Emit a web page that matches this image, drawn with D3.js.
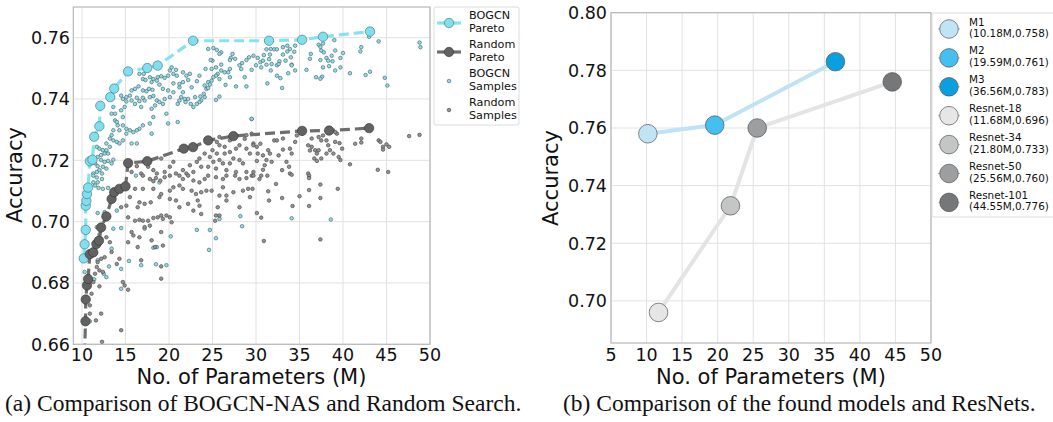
<!DOCTYPE html>
<html>
<head>
<meta charset="utf-8">
<script src="https://cdn.jsdelivr.net/npm/d3@7"></script>
<style>
	body { margin: 0; background: #fff; }
	text { font-family: 'DejaVu Sans', sans-serif; }
	.caption { font-family: 'Liberation Serif', 'Times New Roman', serif; }
</style>
</head>
<body>
<svg id="chart" width="1053" height="422"></svg>
<script>
/*

*	Data for panel (a): pareto fronts and samples, [params (M), accuracy]

*/
var bogcnPareto = [[10.2,0.688],[10.3,0.6926],[10.43,0.6973],[10.43,0.7052],[10.5,0.7068],[10.57,0.709],[10.7,0.7111],[10.9,0.7197],[11.2,0.7202],[11.4,0.7277],[12.0,0.7311],[12.1,0.7378],[13.25,0.7406],[13.7,0.7434],[15.3,0.749],[17.5,0.7501],[18.7,0.7509],[22.76,0.759],[31.5,0.759],[35.3,0.7593],[37.7,0.7603],[43.1,0.762]];

var randomPareto = [[10.3,0.657],[10.4,0.6675],[10.43,0.6746],[10.57,0.6792],[10.7,0.6813],[10.9,0.6894],[11.3,0.69],[11.65,0.6927],[11.95,0.6938],[12.2,0.6981],[12.8,0.7017],[13.4,0.7074],[13.7,0.7096],[14.3,0.7107],[15.0,0.7115],[15.3,0.7191],[17.5,0.7197],[21.7,0.7238],[22.76,0.7243],[24.5,0.7265],[27.4,0.7279],[35.3,0.7296],[38.4,0.7297],[43.0,0.7305]];

var bogcnSamples = [[24.5,0.7563],[25.1,0.7566],[25.5,0.756],[26.0,0.7552],[25.8,0.7547],[25.0,0.7525],[24.8,0.7527],[27.3,0.7547],[27.1,0.7534],[27.6,0.7531],[27.0,0.7527],[28.9,0.7527],[29.2,0.7536],[28.4,0.7517],[28.1,0.751],[28.3,0.7498],[28.7,0.7471],[27.7,0.7441],[28.9,0.7441],[27.0,0.7498],[27.0,0.7471],[26.8,0.7487],[26.4,0.7487],[26.0,0.7493],[25.6,0.7482],[25.4,0.7476],[25.8,0.7465],[25.1,0.7471],[24.9,0.746],[24.5,0.7455],[24.1,0.7444],[24.3,0.7433],[24.0,0.7417],[24.1,0.7406],[23.7,0.7395],[23.5,0.739],[23.2,0.7384],[23.6,0.7408],[24.5,0.7436],[24.7,0.7447],[26.5,0.7446],[25.8,0.7408],[25.4,0.7397],[26.0,0.7512],[25.4,0.7503],[24.9,0.7498],[24.2,0.7498],[23.5,0.7476],[23.2,0.7458],[22.6,0.7438],[22.2,0.7462],[22.0,0.7476],[22.4,0.7482],[21.6,0.7487],[20.8,0.7495],[20.9,0.7476],[20.5,0.7482],[20.3,0.7503],[20.1,0.7493],[19.9,0.7476],[19.5,0.7469],[19.1,0.7474],[18.7,0.7471],[18.2,0.7465],[17.8,0.7471],[17.1,0.7482],[16.6,0.7482],[17.0,0.7465],[17.3,0.7462],[18.0,0.7455],[18.6,0.746],[18.9,0.7447],[17.7,0.7433],[18.1,0.743],[17.4,0.7425],[17.0,0.7428],[16.5,0.7441],[16.1,0.7433],[15.7,0.7428],[15.5,0.7411],[15.1,0.7406],[14.7,0.74],[14.5,0.7411],[15.1,0.7392],[15.7,0.7395],[16.3,0.7404],[17.0,0.7404],[17.2,0.7395],[17.8,0.7406],[18.2,0.741],[18.6,0.7395],[18.9,0.739],[19.3,0.7384],[19.5,0.74],[20.1,0.7406],[20.5,0.7422],[21.2,0.7438],[21.6,0.7422],[21.2,0.7449],[21.6,0.7455],[21.0,0.7384],[21.2,0.7395],[21.4,0.7406],[21.8,0.74],[22.2,0.74],[21.9,0.739],[22.8,0.7374],[22.5,0.7384],[23.0,0.7406],[19.3,0.7433],[19.9,0.7428],[20.5,0.7451],[16.1,0.7384],[16.6,0.7393],[16.8,0.7374],[18.0,0.7368],[18.4,0.7379],[18.2,0.7341],[17.8,0.732],[17.0,0.7314],[16.6,0.7303],[16.3,0.7298],[15.9,0.7292],[15.5,0.7298],[15.1,0.7303],[14.7,0.7314],[14.7,0.7341],[14.5,0.7363],[14.9,0.7374],[13.6,0.7374],[13.4,0.7352],[13.8,0.7352],[13.8,0.733],[14.0,0.7325],[14.1,0.7314],[14.3,0.7298],[13.6,0.7298],[13.4,0.7282],[13.2,0.7271],[13.6,0.7265],[14.0,0.726],[14.3,0.7255],[14.7,0.7265],[15.7,0.7255],[16.3,0.7255],[15.1,0.7287],[19.7,0.7352],[21.0,0.7325],[19.9,0.732],[29.5,0.7335],[18.0,0.7287],
	[11.7,0.7244],[12.0,0.7238],[12.4,0.7233],[12.6,0.7222],[12.2,0.7217],[12.8,0.7233],[13.0,0.7222],[11.8,0.7211],[12.2,0.7201],[12.6,0.7195],[13.0,0.7198],[13.4,0.719],[11.5,0.719],[11.8,0.7181],[12.4,0.7179],[12.8,0.7173],[13.6,0.7202],[12.0,0.7168],[11.7,0.7162],[11.3,0.7157],[12.3,0.7157],[13.2,0.7244],[12.8,0.7255],
	[29.7,0.7541],[29.5,0.7495],[30.2,0.7534],[30.0,0.751],[30.5,0.752],[30.8,0.7525],[30.6,0.7503],[30.9,0.7543],[31.2,0.7562],[31.7,0.7563],[32.1,0.7562],[32.4,0.7562],[31.6,0.7545],[31.5,0.753],[31.2,0.7512],[31.8,0.7514],[31.7,0.7493],[32.4,0.751],[32.7,0.7523],[32.6,0.7514],[33.1,0.7569],[33.6,0.7574],[33.9,0.7563],[34.5,0.7574],[33.6,0.7555],[34.4,0.7554],[34.0,0.7536],[33.4,0.7525],[34.1,0.7512],[34.5,0.7493],[33.7,0.7484],[34.1,0.751],[33.1,0.7545],[32.4,0.7476],[32.8,0.7468],[31.3,0.7451],[33.0,0.7436],[35.8,0.7495],[36.3,0.7547],[36.2,0.7531],[37.2,0.7577],[37.4,0.757],[37.7,0.7581],[37.5,0.7558],[37.8,0.7552],[37.4,0.7527],[38.1,0.7534],[38.3,0.7525],[38.8,0.7523],[38.7,0.7541],[39.1,0.7558],[39.7,0.7534],[40.0,0.755],[39.0,0.7592],[37.7,0.7503],[38.4,0.7507],[39.1,0.7493],[39.7,0.7503],[36.9,0.7471],[37.6,0.7473],[37.4,0.7466],[40.8,0.7484],[42.1,0.7569],[42.0,0.7555],[42.6,0.7478],[43.1,0.7489],[43.0,0.7603],[44.1,0.7588],[44.8,0.7469],[45.1,0.7444],[48.8,0.7584],[48.9,0.7569],[29.5,0.7335],
	[11.3,0.715],[11.7,0.7144],[12.3,0.7139],[11.8,0.7128],[11.9,0.711],[12.4,0.7107],[16.2,0.715],[11.5,0.7118],[13.0,0.711],[18.9,0.7128],[11.8,0.7028],[11.7,0.6982],[13.6,0.6977],[14.5,0.6979],[17.2,0.6977],[20.2,0.6952],[18.6,0.6917],[18.2,0.6915],[15.4,0.6872],[16.8,0.6858],[18.5,0.6861],[19.7,0.6858],[14.5,0.6846],[13.1,0.6854],[12.8,0.6819],[14.5,0.6781],[11.8,0.6874],[10.3,0.6836],[23.2,0.6973],[24.7,0.6973],[25.4,0.6946],[25.8,0.7009],[28.2,0.7018],[28.4,0.6985],[24.6,0.6908],[14.0,0.7036],[13.4,0.6912],[12.0,0.6958],[11.3,0.7128],[12.6,0.7031],[34.1,0.7011],[38.6,0.7007],[10.9,0.6675],[11.4,0.6812],[12.5,0.683]];

var randomSamples = [[25.5,0.726],[25.8,0.7249],[26.4,0.7244],[25.0,0.7233],[25.5,0.7222],[26.4,0.7222],[27.0,0.7227],[27.7,0.7238],[28.1,0.7249],[28.7,0.727],[28.9,0.7238],[29.3,0.7222],[29.7,0.7255],[27.4,0.7206],[28.1,0.7201],[28.5,0.719],[27.0,0.719],[26.2,0.719],[25.8,0.7201],[25.1,0.7195],[24.5,0.7179],[25.4,0.7173],[26.6,0.7168],[27.7,0.7162],[28.9,0.7162],[23.5,0.7206],[23.2,0.7195],[23.7,0.7179],[22.4,0.7184],[21.6,0.7168],[22.0,0.7157],[22.8,0.7162],[20.5,0.7195],[20.1,0.7179],[19.5,0.7162],[20.8,0.7157],[18.2,0.7168],[17.6,0.7179],[18.6,0.7157],[16.8,0.7157],[16.3,0.7181],[15.7,0.7162],[19.1,0.7206],[17.8,0.7201],[25.8,0.7276],[27.0,0.7265],[28.9,0.7282],[24.1,0.7222],[24.7,0.7211],
	[17.0,0.715],[17.8,0.7139],[18.2,0.7132],[18.5,0.7142],[19.0,0.7134],[19.5,0.7145],[20.1,0.715],[21.2,0.715],[21.6,0.7139],[22.2,0.715],[22.8,0.7134],[23.5,0.7128],[24.1,0.7139],[24.5,0.715],[25.4,0.7145],[26.2,0.7139],[26.6,0.715],[27.6,0.715],[28.1,0.7139],[28.9,0.7142],[29.5,0.715],[16.1,0.7107],[17.0,0.7107],[18.2,0.7107],[19.1,0.709],[20.1,0.7101],[20.5,0.7112],[21.2,0.7118],[21.6,0.7107],[22.6,0.7101],[23.1,0.709],[23.7,0.7096],[24.3,0.7101],[24.9,0.7101],[25.8,0.7085],[26.6,0.7085],[27.4,0.7096],[28.5,0.7101],[29.1,0.7107],[29.3,0.708],[26.6,0.7069],[25.6,0.7047],[25.4,0.702],[28.1,0.7047],[26.2,0.7112],[15.5,0.708],[16.6,0.7063],[16.4,0.7047],[17.2,0.7058],[17.9,0.7063],[18.9,0.708],[20.1,0.7074],[20.8,0.7069],[21.2,0.7047],[22.2,0.7058],[23.3,0.7069],[23.5,0.7052],[23.7,0.7025],[22.8,0.7036],[14.5,0.7047],[15.1,0.7052],[15.3,0.7014],[16.1,0.7003],[16.6,0.7006],[17.0,0.7003],[17.6,0.7003],[17.8,0.6987],[18.2,0.7012],[18.7,0.7014],[19.1,0.702],[19.7,0.702],[20.1,0.7014],[20.3,0.6998],[19.3,0.7009],[17.2,0.6982],[15.7,0.6966],[15.9,0.6955],[16.6,0.6949],[15.3,0.6933],[16.4,0.6917],[18.0,0.6939],[19.1,0.6966],[19.3,0.6922],[18.4,0.6917],[16.8,0.6874],[19.1,0.6854],[19.1,0.6814],[14.7,0.6803],[14.9,0.6792],[15.3,0.6778],[14.5,0.6646],[12.3,0.6608],[12.8,0.6949],[13.2,0.6933],[13.4,0.6901],[12.6,0.6884],[12.2,0.6879],[11.8,0.6868],[11.7,0.6852],[12.0,0.6841],[12.4,0.6836],[11.5,0.683],[11.3,0.6803],[12.0,0.6789],[11.1,0.6765],[10.9,0.6727],[11.6,0.6678],[10.9,0.67],[12.2,0.67],[14.0,0.6862],[14.3,0.6879],[25.3,0.7003],[25.8,0.702],
	[29.7,0.7249],[30.1,0.7244],[30.5,0.7254],[30.2,0.7222],[30.8,0.7216],[31.4,0.7233],[31.6,0.7222],[31.8,0.7195],[31.2,0.7201],[30.1,0.7198],[31.0,0.7184],[32.1,0.7265],[32.4,0.7265],[33.1,0.7271],[33.1,0.7235],[32.6,0.7216],[33.9,0.7238],[34.1,0.7222],[33.5,0.7195],[33.8,0.7179],[34.5,0.726],[34.7,0.7281],[36.0,0.7249],[36.4,0.7244],[36.2,0.7232],[36.8,0.7233],[37.2,0.7233],[37.0,0.7222],[36.7,0.7206],[37.0,0.7198],[37.5,0.7206],[36.4,0.7271],[37.2,0.7276],[37.5,0.7265],[37.7,0.7281],[38.1,0.7265],[38.3,0.7249],[38.5,0.7233],[38.1,0.7222],[39.1,0.726],[39.6,0.7256],[38.9,0.7222],[39.5,0.7211],[39.7,0.7201],[39.9,0.7238],[39.3,0.7287],[39.1,0.7292],[40.8,0.7187],[41.4,0.7254],[42.1,0.7271],[42.1,0.7258],[44.1,0.7265],[44.3,0.726],[44.6,0.7244],[45.0,0.7252],[45.3,0.7244],[44.6,0.7235],[47.6,0.7279],[48.8,0.7283],[44.0,0.7169],[45.2,0.7162],[36.0,0.7157],[33.9,0.7157],[33.0,0.7168],[30.8,0.7169],[29.7,0.7162],[29.5,0.7287],[35.3,0.7287],
	[29.7,0.715],[30.6,0.715],[31.3,0.715],[34.1,0.7153],[36.1,0.715],[30.4,0.7139],[36.1,0.7142],[32.3,0.7123],[37.4,0.7121],[29.6,0.7107],[31.4,0.7099],[36.1,0.7103],[39.4,0.7107],[33.0,0.7077],[35.0,0.7083],[37.4,0.7077],[31.5,0.7069],[34.2,0.7051],[36.1,0.7051],[30.1,0.7028],[30.6,0.7013],[30.9,0.6937],[37.4,0.6942]];

var xTicksA = [10, 15, 20, 25, 30, 35, 40, 45, 50];
var yTicksA = [0.66, 0.68, 0.70, 0.72, 0.74, 0.76];
var legendA = ['BOGCN\nPareto', 'Random\nPareto', 'BOGCN\nSamples', 'Random\nSamples'];

/*

*	Data for panel (b): found models vs ResNets

*/
var modelNames = ['M1', 'M2', 'M3'];
var modelParams = [10.18, 19.59, 36.56];
var modelAcc = [0.758, 0.761, 0.783];
var resnetNames = ['Resnet-18', 'Resnet-34', 'Resnet-50', 'Resnet-101'];
var resnetParams = [11.68, 21.80, 25.56, 44.55];
var resnetAcc = [0.696, 0.733, 0.760, 0.776];
var modelColors = ['#c1e4f5', '#45bff0', '#0aa0e0'];
var resnetColors = ['#e6e6e6', '#c4c6c6', '#9c9e9f', '#757778'];
var stubColors = ['#1f77b4', '#ff7f0e', '#2ca02c', '#d62728', '#9467bd', '#8c564b', '#e377c2'];

var xTicksB = [5, 10, 15, 20, 25, 30, 35, 40, 45, 50];
var yTicksB = [0.70, 0.72, 0.74, 0.76, 0.78, 0.80];

var svg = d3.select('#chart');
svg.append('rect').attr('width', 1053).attr('height', 422).attr('fill', '#fff');

function fmt2(v) {
	return v.toFixed(2);
}

function drawFrame(g, x, y, xt, yt, tickX, tickY, clipId) {
	var x0 = x.range()[0], x1 = x.range()[1];
	var y0 = y.range()[0], y1 = y.range()[1];

	g.append('clipPath').attr('id', clipId)
		.append('rect').attr('x', x0).attr('y', y1).attr('width', x1 - x0).attr('height', y0 - y1);

	// grid
	g.selectAll('.gx').data(xt).enter().append('line')
		.attr('x1', function (d) { return x(d); }).attr('x2', function (d) { return x(d); })
		.attr('y1', y0).attr('y2', y1)
		.attr('stroke', '#e2e2e2').attr('stroke-width', 1);
	g.selectAll('.gy').data(yt).enter().append('line')
		.attr('y1', function (d) { return y(d); }).attr('y2', function (d) { return y(d); })
		.attr('x1', x0).attr('x2', x1)
		.attr('stroke', '#e2e2e2').attr('stroke-width', 1);

	// tick labels
	g.selectAll('.tx').data(xt).enter().append('text')
		.attr('x', function (d) { return x(d); }).attr('y', tickY)
		.attr('text-anchor', 'middle').attr('font-size', 17.5).attr('fill', '#111')
		.text(function (d) { return d; });
	g.selectAll('.ty').data(yt).enter().append('text')
		.attr('x', tickX).attr('y', function (d) { return y(d) + 6.3; })
		.attr('text-anchor', 'end').attr('font-size', 17.5).attr('fill', '#111')
		.text(fmt2);
}

function drawBox(g, x, y) {
	var x0 = x.range()[0], x1 = x.range()[1];
	var y0 = y.range()[0], y1 = y.range()[1];
	g.append('rect').attr('x', x0).attr('y', y1).attr('width', x1 - x0).attr('height', y0 - y1)
		.attr('fill', 'none').attr('stroke', '#b8b8b8').attr('stroke-width', 1.2);
}

/*

*	Panel (a)

*/
var xA = d3.scaleLinear().domain([9, 50]).range([73.3, 430]);
var yA = d3.scaleLinear().domain([0.66, 0.77]).range([344.3, 7]);
var gA = svg.append('g');
drawFrame(gA, xA, yA, xTicksA, yTicksA, 70, 361, 'clipA');

var plotA = gA.append('g').attr('clip-path', 'url(#clipA)');

plotA.selectAll('.bs').data(bogcnSamples).enter().append('circle')
	.attr('cx', function (d) { return xA(d[0]); }).attr('cy', function (d) { return yA(d[1]); })
	.attr('r', 1.8).attr('fill', '#8fdde9').attr('stroke', '#3a5a60').attr('stroke-width', 0.6);

plotA.selectAll('.rs').data(randomSamples).enter().append('circle')
	.attr('cx', function (d) { return xA(d[0]); }).attr('cy', function (d) { return yA(d[1]); })
	.attr('r', 1.8).attr('fill', '#939393').attr('stroke', '#3c3c3c').attr('stroke-width', 0.6);

var lineA = d3.line()
	.x(function (d) { return xA(d[0]); })
	.y(function (d) { return yA(d[1]); });

plotA.append('path').datum(bogcnPareto).attr('d', lineA)
	.attr('fill', 'none').attr('stroke', '#82e4f3').attr('stroke-width', 3.2).attr('stroke-dasharray', '10,5');
plotA.selectAll('.bp').data(bogcnPareto).enter().append('circle')
	.attr('cx', function (d) { return xA(d[0]); }).attr('cy', function (d) { return yA(d[1]); })
	.attr('r', 4.7).attr('fill', '#80dfee').attr('stroke', '#3b6f78').attr('stroke-width', 0.6);

plotA.append('path').datum(randomPareto).attr('d', lineA)
	.attr('fill', 'none').attr('stroke', '#6e6e6e').attr('stroke-width', 3.2).attr('stroke-dasharray', '10,5');
plotA.selectAll('.rp').data(randomPareto).enter().append('circle')
	.attr('cx', function (d) { return xA(d[0]); }).attr('cy', function (d) { return yA(d[1]); })
	.attr('r', 4.7).attr('fill', '#626262').attr('stroke', '#333').attr('stroke-width', 0.6);

drawBox(gA, xA, yA);

gA.append('text').attr('x', 251.5).attr('y', 384).attr('text-anchor', 'middle')
	.attr('font-size', 21).attr('fill', '#111').text('No. of Parameters (M)');
gA.append('text').attr('transform', 'translate(22,175) rotate(-90)').attr('text-anchor', 'middle')
	.attr('font-size', 21).attr('fill', '#111').text('Accuracy');

// legend (a)
var legA = gA.append('g');
legA.append('rect').attr('x', 434).attr('y', 7).attr('width', 85).attr('height', 118).attr('rx', 2)
	.attr('fill', '#fff').attr('stroke', '#dcdcdc');
legendA.forEach(function (label, i) {
	var cy = 23 + i * 29;
	if (i < 2) {
		legA.append('line').attr('x1', 437).attr('x2', 461).attr('y1', cy).attr('y2', cy)
			.attr('stroke', i == 0 ? '#82e4f3' : '#6e6e6e').attr('stroke-width', 3.2);
		legA.append('circle').attr('cx', 449).attr('cy', cy).attr('r', 4.7)
			.attr('fill', i == 0 ? '#80dfee' : '#626262').attr('stroke', i == 0 ? '#3b6f78' : '#333').attr('stroke-width', 0.6);
	} else {
		legA.append('circle').attr('cx', 449).attr('cy', cy).attr('r', 1.8)
			.attr('fill', i == 2 ? '#8fdde9' : '#939393').attr('stroke', i == 2 ? '#3a5a60' : '#3c3c3c').attr('stroke-width', 0.6);
	}
	var t = legA.append('text').attr('x', 469).attr('y', cy - 4).attr('font-size', 11.2).attr('fill', '#111');
	label.split('\n').forEach(function (s, j) {
		t.append('tspan').attr('x', 469).attr('dy', j == 0 ? 0 : 12.8).text(s);
	});
});

gA.append('text').attr('class', 'caption').attr('x', 5).attr('y', 411)
	.attr('font-size', 23.5).attr('fill', '#111').text('(a) Comparison of BOGCN-NAS and Random Search.');

/*

*	Panel (b)

*/
var xB = d3.scaleLinear().domain([5, 50]).range([611, 931]);
var yB = d3.scaleLinear().domain([0.6854, 0.80]).range([343, 12.7]);
var gB = svg.append('g');
drawFrame(gB, xB, yB, xTicksB, yTicksB, 607, 361, 'clipB');

var lineB = d3.line()
	.x(function (d) { return xB(d[0]); })
	.y(function (d) { return yB(d[1]); });

var models = modelParams.map(function (p, i) { return [p, modelAcc[i]]; });
var resnets = resnetParams.map(function (p, i) { return [p, resnetAcc[i]]; });

gB.append('path').datum(resnets).attr('d', lineB)
	.attr('fill', 'none').attr('stroke', '#e4e4e4').attr('stroke-width', 4);
gB.append('path').datum(models).attr('d', lineB)
	.attr('fill', 'none').attr('stroke', '#bfe3f5').attr('stroke-width', 4);

gB.selectAll('.rn').data(resnets).enter().append('circle')
	.attr('cx', function (d) { return xB(d[0]); }).attr('cy', function (d) { return yB(d[1]); })
	.attr('r', 9.3).attr('fill', function (d, i) { return resnetColors[i]; })
	.attr('stroke', '#555').attr('stroke-width', 0.7);
gB.selectAll('.md').data(models).enter().append('circle')
	.attr('cx', function (d) { return xB(d[0]); }).attr('cy', function (d) { return yB(d[1]); })
	.attr('r', 9.3).attr('fill', function (d, i) { return modelColors[i]; })
	.attr('stroke', '#555').attr('stroke-width', 0.7);

drawBox(gB, xB, yB);

gB.append('text').attr('x', 771).attr('y', 384).attr('text-anchor', 'middle')
	.attr('font-size', 21).attr('fill', '#111').text('No. of Parameters (M)');
gB.append('text').attr('transform', 'translate(558,178) rotate(-90)').attr('text-anchor', 'middle')
	.attr('font-size', 21).attr('fill', '#111').text('Accuracy');

// legend (b)
var legB = gB.append('g');
legB.append('rect').attr('x', 932).attr('y', 13).attr('width', 130).attr('height', 204).attr('rx', 2)
	.attr('fill', '#fff').attr('stroke', '#dcdcdc');
var legItems = modelNames.map(function (n, i) {
	return { name: n, p: modelParams[i], a: modelAcc[i], c: modelColors[i] };
}).concat(resnetNames.map(function (n, i) {
	return { name: n, p: resnetParams[i], a: resnetAcc[i], c: resnetColors[i] };
}));
legItems.forEach(function (d, i) {
	var cy = 29 + i * 28.9;
	legB.append('line').attr('x1', 938).attr('x2', 960).attr('y1', cy).attr('y2', cy)
		.attr('stroke', stubColors[i]).attr('stroke-width', 0.8).attr('opacity', 0.6);
	legB.append('circle').attr('cx', 949).attr('cy', cy).attr('r', 9.3)
		.attr('fill', d.c).attr('stroke', '#555').attr('stroke-width', 0.7);
	var t = legB.append('text').attr('x', 969).attr('y', cy - 3.5).attr('font-size', 10.4).attr('fill', '#111');
	t.append('tspan').attr('x', 969).attr('dy', 0).text(d.name);
	t.append('tspan').attr('x', 969).attr('dy', 11.5).text('(' + d.p.toFixed(2) + 'M,' + d.a.toFixed(3) + ')');
});

gB.append('text').attr('class', 'caption').attr('x', 563).attr('y', 411)
	.attr('font-size', 23.5).attr('fill', '#111').text('(b) Comparison of the found models and ResNets.');
</script>
</body>
</html>
